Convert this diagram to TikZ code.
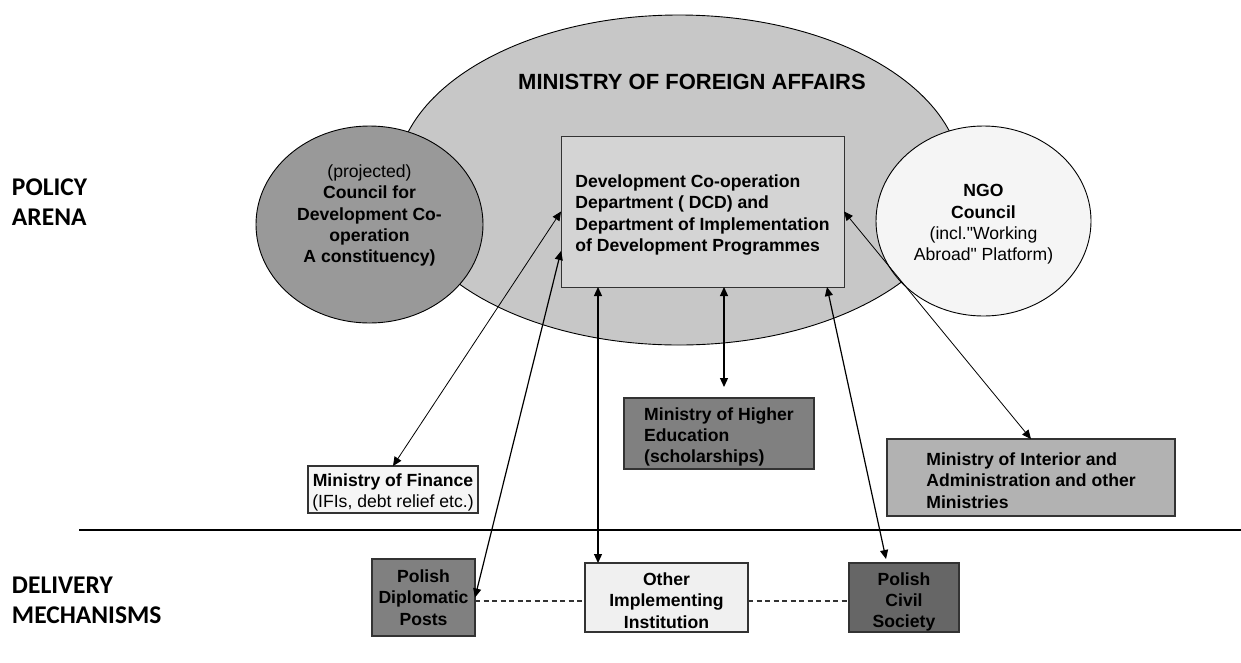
\documentclass[tikz,border=0pt]{standalone}
\usepackage{fontspec}
\setmainfont{Liberation Sans}[Ligatures=TeXOff]
\newfontfamily\calib{Carlito}
\usetikzlibrary{shapes.geometric,arrows.meta,calc}
\definecolor{mfagray}{gray}{0.78}
\definecolor{dcdgray}{gray}{0.83}
\definecolor{councilgray}{gray}{0.6}
\definecolor{ngogray}{gray}{0.96}
\definecolor{mofgray}{gray}{0.96}
\definecolor{mhegray}{gray}{0.5}
\definecolor{moigray}{gray}{0.7}
\definecolor{dipgray}{gray}{0.5}
\definecolor{oiigray}{gray}{0.94}
\definecolor{pcsgray}{gray}{0.4}
\definecolor{edgegray}{gray}{0.2}
\newcommand{\lowstrut}[1]{\rule{0pt}{#1pt}}
\begin{document}
\begin{tikzpicture}[x=1pt,y=-1pt,
  every node/.style={inner sep=0pt, outer sep=0pt, font=\fontsize{17.6}{21.3}\selectfont},
  oval/.style={draw=black, line width=0.9pt, ellipse, inner sep=0pt},
  box/.style={draw=edgegray, line width=1.2pt, rectangle},
  boldtext/.style={font=\bfseries\fontsize{17.6}{21.3}\selectfont},
  sidelabel/.style={anchor=west, align=left, font=\calib\bfseries\fontsize{25.5}{30}\selectfont},
  link/.style={line width=1.2pt, {Triangle[length=9pt,width=8pt]}-{Triangle[length=9pt,width=8pt]}},
  thinlink/.style={link, line width=0.8pt},
  dashlink/.style={draw=edgegray, line width=1.1pt, dash pattern=on 5pt off 3.5pt}
]
\useasboundingbox (0,0) rectangle (1241,662);

% side labels
\node[sidelabel] (policy) at (12,202) {POLICY\\ARENA};
\node[sidelabel] (delivery) at (12,600) {DELIVERY\\MECHANISMS};

% ellipses
\node[oval, fill=mfagray, minimum width=566, minimum height=330] (mfa) at (679,180) {};
\node[font=\bfseries\fontsize{22}{26}\selectfont] (mfatitle) at (692,82) {MINISTRY OF FOREIGN AFFAIRS};
\node[oval, fill=councilgray, minimum width=227, minimum height=197] (council) at (369.5,224.5) {};
\node[align=center] (counciltext) at ([yshift=9]council.center)
  {(projected)\\\textbf{Council for}\\\textbf{Development Co-}\\\textbf{operation}\\\textbf{A constituency)}};
\node[oval, fill=ngogray, minimum width=215, minimum height=190, align=center] (ngo) at (983.5,221)
  {\lowstrut{19}\textbf{NGO}\\\textbf{Council}\\(incl."Working\\Abroad" Platform)};

% central department box
\node[box, line width=1pt, fill=dcdgray, minimum width=283, minimum height=151, align=left, boldtext] (dcd) at (702.5,211.5)
  {\lowstrut{20}Development Co-operation\\Department ( DCD) and\\Department of Implementation\\of Development Programmes};

% policy arena boxes
\node[box, fill=mofgray, minimum width=170, minimum height=47, align=center] (mof) at (393,489.5)
  {\lowstrut{18}\textbf{Ministry of Finance}\\(IFIs, debt relief etc.)};
\node[box, fill=mhegray, minimum width=190, minimum height=71, align=left, boldtext] (mhe) at (719,433.5)
  {\lowstrut{20}Ministry of Higher\\Education\\(scholarships)};
\node[box, fill=moigray, minimum width=288, minimum height=77, align=left, boldtext] (moi) at (1031,477.5)
  {\lowstrut{19}Ministry of Interior and\\Administration and other\\Ministries};

% divider
\coordinate (ruleL) at (79,530);
\coordinate (ruleR) at (1241,530);
\draw[line width=2.2pt] (ruleL) -- (ruleR);

% delivery boxes
\node[box, fill=dipgray, minimum width=103, minimum height=77, align=center, boldtext] (dip) at (423.5,597.5)
  {Polish\\Diplomatic\\Posts};
\node[box, fill=oiigray, minimum width=163, minimum height=69, align=center, boldtext] (oii) at (666.5,597.5)
  {\lowstrut{19}Other\\Implementing\\Institution};
\node[box, fill=pcsgray, minimum width=110, minimum height=69, align=center, boldtext] (pcs) at (904,597.5)
  {\lowstrut{22}Polish\\Civil\\Society};

% dashed links
\draw[dashlink] ($(dip.east)+(0,3.5)$) -- ($(oii.west)+(0,3.5)$);
\draw[dashlink] ($(oii.east)+(0,3.5)$) -- ($(pcs.west)+(0,3.5)$);

% arrows
\draw[thinlink] (dcd.west) -- (mof.north);
\draw[link] ([yshift=-39.5]dcd.west) -- (dip.east);
\draw[link] ([xshift=37]dcd.south west) -- ([xshift=13]oii.north west);
\draw[link] ([xshift=163]dcd.south west) -- ([xshift=100,yshift=11]mhe.north west);
\draw[link] ([xshift=-17]dcd.south east) -- ([xshift=37,yshift=4]pcs.north west);
\draw[thinlink] (dcd.east) -- (moi.north);
\end{tikzpicture}
\end{document}
